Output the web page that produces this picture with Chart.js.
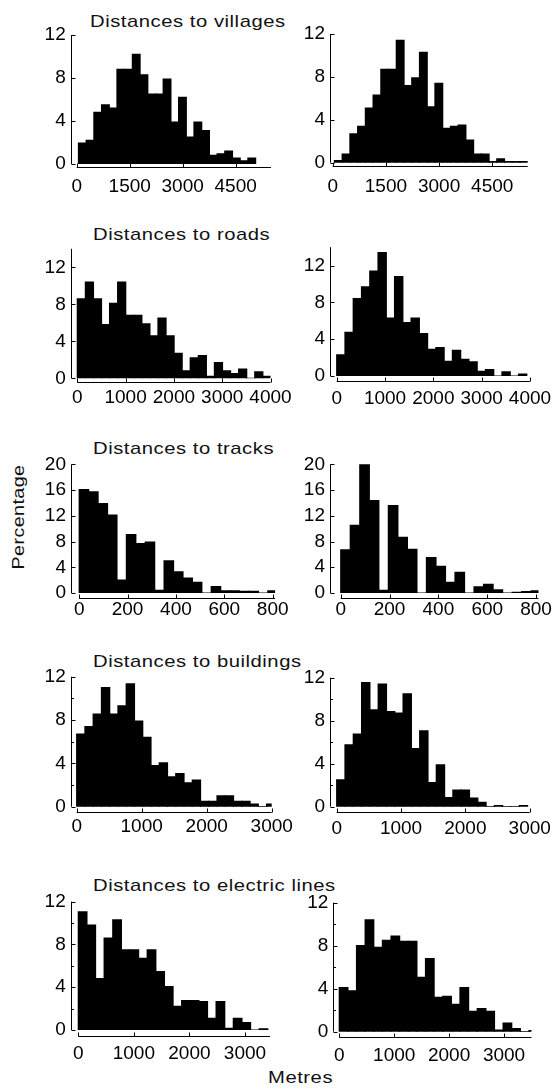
<!DOCTYPE html>
<html>
<head>
<meta charset="utf-8">
<script src="https://cdn.jsdelivr.net/npm/chart.js@4"></script>
<style>
  body { margin: 0; background: #fff; }
  #page { position: relative; width: 553px; height: 1089px; overflow: hidden; font-family: "Liberation Sans", Arial, sans-serif; }
  canvas { position: absolute; }
  .lbl { position: absolute; font-size: 17px; line-height: 17px; letter-spacing: 0.45px; white-space: nowrap; color: #111; transform-origin: left top; transform: scaleX(1.19); }
  .rot { position: absolute; width: 0; height: 0; }
  .rot span { position: absolute; font-size: 17px; line-height: 17px; letter-spacing: 0.35px; white-space: nowrap; color: #111; transform: translate(-50%, -50%) rotate(-90deg) scaleX(1.16); }
</style>
</head>
<body>
<div id="page">
  <div class="lbl" style="left:90px;top:12.8px">Distances to villages</div>
  <div class="lbl" style="left:93px;top:225.5px">Distances to roads</div>
  <div class="lbl" style="left:93px;top:439.5px">Distances to tracks</div>
  <div class="lbl" style="left:93px;top:652.8px">Distances to buildings</div>
  <div class="lbl" style="left:93px;top:876.8px">Distances to electric lines</div>
  <div class="rot" style="left:18px;top:517px"><span>Percentage</span></div>
  <div class="lbl" style="left:268px;top:1069px">Metres</div>
</div>
<script>
// percentage of sites per distance bin, left and right columns
var villagesLeft  = [1.95, 2.2, 4.8, 5.5, 5.2, 8.8, 8.8, 10.2, 8.3, 6.5, 6.5, 7.9, 3.9, 6.2, 2.5, 3.9, 3.1, 0.8, 0.95, 1.2, 0.55, 0.3, 0.55];
var villagesRight = [0.2, 0.8, 2.7, 3.4, 5.1, 6.3, 8.7, 8.7, 11.4, 7.2, 7.9, 10.3, 5.2, 7.4, 3.2, 3.4, 3.5, 2.1, 0.8, 0.8, 0.1, 0.35, 0.1, 0.1, 0.1];
var roadsLeft     = [8.6, 10.4, 8.6, 5.8, 8.1, 10.4, 6.8, 6.8, 5.9, 4.6, 6.5, 4.6, 2.7, 0.8, 2.2, 2.45, 0.2, 1.7, 0.8, 0.5, 1.0, 0, 0.7, 0.2];
var roadsRight    = [2.3, 4.75, 8.4, 9.7, 11.4, 13.4, 6.3, 10.8, 5.8, 6.3, 4.6, 2.9, 3.1, 1.6, 2.8, 1.8, 1.55, 0.5, 0.7, 0, 0.45, 0, 0.2];
var tracksLeft    = [16.1, 15.75, 13.9, 12.1, 2.0, 9.1, 7.7, 7.9, 0.4, 5.0, 3.3, 2.3, 1.65, 0, 1.0, 0.35, 0.35, 0.25, 0.25, 0, 0.35];
var tracksRight   = [6.7, 10.5, 20.0, 14.35, 0.4, 13.6, 8.65, 6.8, 0, 5.5, 4.15, 1.65, 3.2, 0, 0.95, 1.35, 0.5, 0, 0.1, 0.2, 0.35];
var buildingsLeft = [6.7, 7.4, 8.55, 11.0, 8.55, 9.3, 11.35, 7.9, 6.4, 3.8, 4.05, 2.75, 3.05, 2.2, 2.45, 0.5, 0.5, 1.0, 1.0, 0.5, 0.5, 0.25, 0, 0.25];
var buildingsRight= [2.5, 5.75, 6.75, 11.55, 9.0, 11.4, 8.85, 8.7, 10.5, 5.4, 7.05, 2.25, 3.9, 0.85, 1.55, 1.55, 0.8, 0.4, 0, 0.1, 0, 0, 0.1];
var electricLeft  = [11.05, 9.8, 4.8, 8.6, 10.3, 7.5, 7.5, 6.7, 7.5, 5.45, 4.05, 2.2, 2.75, 2.75, 2.65, 1.1, 2.65, 0.15, 1.1, 0.7, 0, 0.1];
var electricRight = [4.1, 3.8, 8.0, 10.4, 7.85, 8.5, 8.9, 8.4, 8.4, 5.05, 6.8, 3.2, 3.3, 2.55, 4.1, 1.9, 2.15, 1.9, 0.15, 0.8, 0.3, 0, 0.1];

// bin edges (metres): first edge and width
var binStart = { villages: 50, roadsL: 0, roadsR: 0, tracks: 0, buildingsL: 0, buildingsR: 0, electricL: 0, electricR: 0 };
var binWidth = { villages: 218, roadsL: 167, roadsR: 171, tracks: 39, buildingsL: 127, buildingsR: 129, electricL: 155, electricR: 157 };

// tick labels
var villagesTicks  = [0, 1500, 3000, 4500];
var roadsTicks     = [0, 1000, 2000, 3000, 4000];
var tracksTicks    = [0, 200, 400, 600, 800];
var buildingsTicks = [0, 1000, 2000, 3000];
var electricTicks  = [0, 1000, 2000, 3000];
var pctTicks       = [0, 4, 8, 12];
var tracksPctTicks = [0, 4, 8, 12, 16, 20];

// axis ranges
var xMax = { villages: 5500, roads: 4000, tracks: 810, buildings: 3000, electricL: 3450, electricR: 3500 };
var yMax = { villages: 12, roads: 14, tracks: 20, buildings: 12, electric: 12 };
var yStep = 4;

// panel geometry: area = [left, top, right, bottom] of the plot box in page px
var panels = [
  { data: villagesLeft,  b0: binStart.villages,   bw: binWidth.villages,   xmin: -170, xmax: xMax.villages,  xt: villagesTicks,  yt: pctTicks,       ymax: yMax.villages,  col: 0, area: [70.7, 35, 271, 164],       gap: 2.7, pad: 12.8, minor: false },
  { data: villagesRight, b0: binStart.villages,   bw: binWidth.villages,   xmin: -76,  xmax: xMax.villages,  xt: villagesTicks,  yt: pctTicks,       ymax: yMax.villages,  col: 1, area: [330, 34, 527.7, 162.7],    gap: 3.3, pad: 14.1, minor: false },
  { data: roadsLeft,     b0: binStart.roadsL,     bw: binWidth.roadsL,     xmin: -137, xmax: xMax.roads,     xt: roadsTicks,     yt: pctTicks,       ymax: yMax.roads,     col: 0, area: [70.7, 248.8, 270.5, 378.3], gap: 3.4, pad: 10.2, minor: false },
  { data: roadsRight,    b0: binStart.roadsR,     bw: binWidth.roadsR,     xmin: -139, xmax: xMax.roads,     xt: roadsTicks,     yt: pctTicks,       ymax: yMax.roads,     col: 1, area: [330, 247.2, 530, 376],     gap: 5, pad: 13.2, minor: false },
  { data: tracksLeft,    b0: binStart.tracks,     bw: binWidth.tracks,     xmin: -34,  xmax: xMax.tracks,    xt: tracksTicks,    yt: tracksPctTicks, ymax: yMax.tracks,    col: 0, area: [71, 464.4, 275.1, 593],    gap: 5, pad: 7.5, minor: false },
  { data: tracksRight,   b0: binStart.tracks,     bw: binWidth.tracks,     xmin: -44,  xmax: xMax.tracks,    xt: tracksTicks,    yt: tracksPctTicks, ymax: yMax.tracks,    col: 1, area: [330, 464.3, 538.5, 593],   gap: 4.7, pad: 7.5, minor: false },
  { data: buildingsLeft, b0: binStart.buildingsL, bw: binWidth.buildingsL, xmin: -92,  xmax: xMax.buildings, xt: buildingsTicks, yt: pctTicks,       ymax: yMax.buildings, col: 0, area: [70.7, 676.7, 271.7, 806.7], gap: 5.3, pad: 10.8, minor: true },
  { data: buildingsRight,b0: binStart.buildingsR, bw: binWidth.buildingsR, xmin: -104, xmax: xMax.buildings, xt: buildingsTicks, yt: pctTicks,       ymax: yMax.buildings, col: 1, area: [330, 677.7, 529.7, 806.7], gap: 5.6, pad: 12.5, minor: true },
  { data: electricLeft,  b0: binStart.electricL,  bw: binWidth.electricL,  xmin: -137, xmax: xMax.electricL, xt: electricTicks,  yt: pctTicks,       ymax: yMax.electric,  col: 0, area: [70.7, 901.6, 270, 1030],   gap: 5.7, pad: 14.2, minor: true },
  { data: electricRight, b0: binStart.electricR,  bw: binWidth.electricR,  xmin: -109, xmax: xMax.electricR, xt: electricTicks,  yt: pctTicks,       ymax: yMax.electric,  col: 1, area: [333.3, 902.7, 531.5, 1031.7], gap: 5, pad: 14.1, minor: true }
];

// offset axes with inward ticks, drawn from the chart's own scales
var offsetAxes = {
  id: 'offsetAxes',
  afterDraw: function (chart, args, opts) {
    var ctx = chart.ctx, a = chart.chartArea, x = chart.scales.x, y = chart.scales.y;
    ctx.save();
    ctx.strokeStyle = '#000';
    ctx.lineWidth = 1;
    ctx.beginPath();
    var lx = Math.round(a.left) + 0.5;
    ctx.moveTo(lx, a.top);
    ctx.lineTo(lx, a.bottom);
    y.ticks.forEach(function (t) {
      var py = Math.round(y.getPixelForValue(t.value)) + 0.5;
      ctx.moveTo(lx, py);
      ctx.lineTo(lx + 4, py);
      if (opts.minor && t.value + yStep / 2 < y.max) {
        var pm = Math.round(y.getPixelForValue(t.value + yStep / 2)) + 0.5;
        ctx.moveTo(lx, pm);
        ctx.lineTo(lx + 2.5, pm);
      }
    });
    var ay = Math.round(a.bottom + opts.gap) + 0.5;
    ctx.moveTo(x.getPixelForValue(0), ay);
    ctx.lineTo(a.right, ay);
    x.ticks.forEach(function (t) {
      var px = Math.round(x.getPixelForValue(t.value)) + 0.5;
      ctx.moveTo(px, ay);
      ctx.lineTo(px, ay - 4);
    });
    ctx.stroke();
    ctx.restore();
  }
};

var YW = 40, XH = 40;
var page = document.getElementById('page');

panels.forEach(function (p) {
  var cl = p.col === 0 ? 0 : 280;
  var cw = p.col === 0 ? 300 : 273;
  var ct = Math.floor(p.area[1] - 20);
  var ch = Math.ceil(p.area[3] + 50) - ct;
  var cv = document.createElement('canvas');
  cv.width = cw; cv.height = ch;
  cv.style.left = cl + 'px'; cv.style.top = ct + 'px';
  page.appendChild(cv);

  var pts = p.data.map(function (v, i) { return { x: p.b0 + p.bw * (i + 0.5), y: v }; });
  var tickFont = { family: '"Liberation Sans", Arial, sans-serif', size: 19, lineHeight: 1 };

  new Chart(cv, {
    type: 'bar',
    data: {
      datasets: [{
        data: pts,
        backgroundColor: '#000',
        borderWidth: 0,
        inflateAmount: 0.6,
        barPercentage: 1,
        categoryPercentage: 1
      }]
    },
    options: {
      responsive: false,
      animation: false,
      devicePixelRatio: 1,
      layout: {
        padding: {
          left: p.area[0] - cl - YW,
          top: p.area[1] - ct,
          right: cl + cw - p.area[2],
          bottom: ct + ch - p.area[3] - XH
        }
      },
      plugins: {
        legend: { display: false },
        tooltip: { enabled: false },
        offsetAxes: { gap: p.gap, minor: p.minor }
      },
      scales: {
        x: {
          type: 'linear',
          offset: false,
          min: p.xmin,
          max: p.xmax,
          grid: { display: false, drawTicks: false },
          border: { display: false },
          ticks: {
            autoSkip: false,
            maxRotation: 0,
            padding: p.pad,
            color: '#000',
            font: tickFont,
            callback: function (v) { return String(v); }
          },
          afterBuildTicks: function (s) { s.ticks = p.xt.map(function (v) { return { value: v }; }); },
          afterFit: function (s) { s.height = XH; s.paddingLeft = 0; s.paddingRight = 0; }
        },
        y: {
          min: 0,
          max: p.ymax,
          grid: { display: false, drawTicks: false },
          border: { display: false },
          ticks: {
            autoSkip: false,
            padding: 5,
            color: '#000',
            font: tickFont,
            callback: function (v) { return String(v); }
          },
          afterBuildTicks: function (s) { s.ticks = p.yt.map(function (v) { return { value: v }; }); },
          afterFit: function (s) { s.width = YW; s.paddingTop = 0; s.paddingBottom = 0; }
        }
      }
    },
    plugins: [offsetAxes]
  });
});
</script>
</body>
</html>
